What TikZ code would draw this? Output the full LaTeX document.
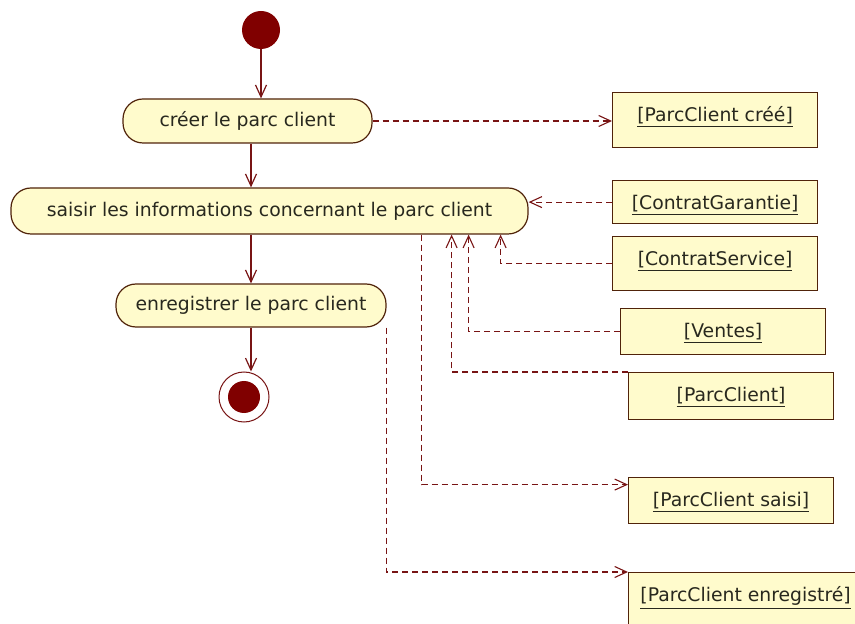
\documentclass[tikz,border=0pt]{standalone}
\usepackage{fontspec}
\setmainfont{DejaVu Sans}
\usepackage{xcolor}
\usepackage{tikz}
\usetikzlibrary{arrows.meta}

\definecolor{jaunepale}{RGB}{255,251,204}
\definecolor{brunfonce}{RGB}{80,35,10}
\definecolor{bordeaux}{RGB}{120,20,20}
\definecolor{rougefonce}{RGB}{128,0,0}
\definecolor{texte}{RGB}{40,40,30}

\begin{document}
\begin{tikzpicture}[
      x=0.5pt, y=-0.5pt,
      font=\fontsize{9.4}{11}\selectfont,
      activite/.style={draw=brunfonce, fill=jaunepale, rounded corners=10pt,
                       line width=0.6pt, inner sep=0pt, text=texte},
      objet/.style={draw=brunfonce, fill=jaunepale, line width=0.6pt, anchor=north west,
                    minimum width=102.5pt, inner sep=0pt, text height=14.5pt, text=texte},
      fleche/.style={-{Straight Barb[length=6pt, width=5.5pt]}, draw=bordeaux, line width=0.6pt},
      flux/.style={-{Straight Barb[length=6pt, width=5.5pt]}, draw=bordeaux, line width=0.55pt,
                   dash pattern=on 3pt off 2pt}]
    \useasboundingbox (0,0) rectangle (855,624);
    % flot principal
    \node[circle, fill=rougefonce, minimum size=19pt, inner sep=0pt] (debut) at (261,30) {};
    \node[activite, minimum width=124.5pt, minimum height=22pt] (creer) at (247.5,121) {créer le parc client};
    \node[activite, minimum width=258.5pt, minimum height=23pt] (saisir) at (269.5,211) {saisir les informations concernant le parc client};
    \node[activite, minimum width=135pt, minimum height=21.5pt] (enreg) at (251,305.5) {enregistrer le parc client};
    \node[circle, draw=bordeaux, fill=white, line width=0.5pt, minimum size=25pt, inner sep=0pt] (fin) at (244,397) {};
    \node[circle, fill=rougefonce, minimum size=16pt, inner sep=0pt] (fincentre) at (fin) {};
    % objets
    \node[objet, text depth=13pt] (ocree) at (612,92) {\underline{[ParcClient créé]}};
    \node[objet, text depth=7pt] (ogarantie) at (612,180) {\underline{[ContratGarantie]}};
    \node[objet, text depth=12.5pt] (oservice) at (612,236) {\underline{[ContratService]}};
    \node[objet, text depth=8.5pt] (oventes) at (620,308) {\underline{[Ventes]}};
    \node[objet, text depth=9pt] (oparc) at (628,372) {\underline{[ParcClient]}};
    \node[objet, text depth=8.5pt] (osaisi) at (628,477) {\underline{[ParcClient saisi]}};
    \node[objet, text depth=15.5pt, minimum width=117pt] (oenr) at (628,572) {\underline{[ParcClient enregistré]}};
    \draw[fleche] (debut) -- (debut |- creer.north);
    \draw[fleche] (creer.south -| enreg) -- (saisir.north -| enreg);
    \draw[fleche] (saisir.south -| enreg) -- (enreg);
    \draw[fleche] (enreg) -- (enreg.south |- fin.north);
    % flux d'objets
    \draw[flux] (creer) -- (creer -| ocree.west);
    \draw[flux] (ogarantie) -- (ogarantie -| saisir.east);
    \draw[flux] (oservice) -| ([xshift=-14pt]saisir.south east);
    \draw[flux] (oventes) -| ([xshift=-30pt]saisir.south east);
    \draw[flux] (oparc.north west) -| ([xshift=-38.5pt]saisir.south east);
    \draw[flux] ([xshift=-53.5pt]saisir.south east) |- ([yshift=8pt]osaisi.west);
    \draw[flux] (enreg.south east) |- (oenr.north west);
  \end{tikzpicture}
\end{document}
